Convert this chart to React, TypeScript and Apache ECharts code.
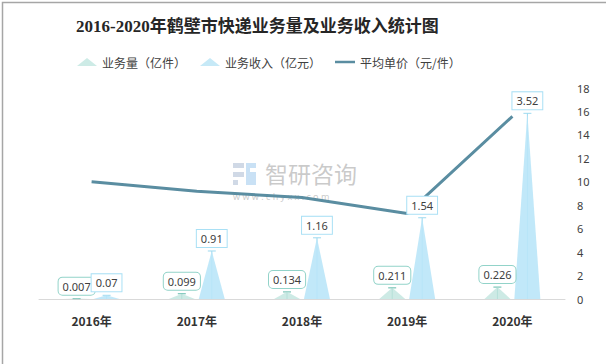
import React, { useEffect, useRef } from "react";
import * as echarts from "echarts";

const categories = ["2016年", "2017年", "2018年", "2019年", "2020年"];
const volume = [0.007, 0.099, 0.134, 0.211, 0.226];
const revenue = [0.07, 0.91, 1.16, 1.54, 3.52];
const avgPrice = [10, 9.19, 8.66, 7.3, 15.58];
const rightTicks = { min: 0, max: 18, interval: 2 };

const NAME_VOL = "业务量（亿件）";
const NAME_REV = "业务收入（亿元）";
const NAME_PRICE = "平均单价（元/件）";

const TRI = "path://M0,100 L50,0 L100,100 Z";

function stemSeries(data: number[], offset: number, color: string) {
  return {
    type: "custom",
    yAxisIndex: 0,
    z: 4,
    silent: true,
    data: data.map((v, i) => [i, v]),
    renderItem: (params: any, api: any) => {
      const top = api.coord([api.value(0), api.value(1)]);
      const base = api.coord([api.value(0), 0]);
      const x = top[0] + offset;
      return {
        type: "group",
        children: [
          { type: "line", shape: { x1: x, y1: base[1], x2: x, y2: top[1] }, style: { stroke: color, lineWidth: 1 } },
          { type: "line", shape: { x1: x - 4, y1: top[1], x2: x + 4, y2: top[1] }, style: { stroke: color, lineWidth: 1 } },
        ],
      };
    },
  };
}

export default function App() {
  const ref = useRef<HTMLDivElement>(null);
  useEffect(() => {
    if (!ref.current) return;
    const chart = echarts.init(ref.current, undefined, { renderer: "svg" });
    const labelBase = {
      show: true,
      position: "top",
      distance: 4,
      fontSize: 11,
      color: "#404040",
      backgroundColor: "#fff",
      padding: [3, 4, 3, 4],
      fontFamily: "'Noto Sans', sans-serif",
    };
    chart.setOption({
      animation: false,
      backgroundColor: "#fff",
      title: {
        text: "2016-2020年鹤壁市快递业务量及业务收入统计图",
        left: 71,
        top: 13,
        textStyle: {
          fontSize: 17,
          fontWeight: "bold",
          color: "#262626",
          fontFamily: "'Liberation Serif', 'Noto Sans CJK SC', serif",
        },
      },
      legend: {
        left: 72,
        top: 51,
        itemWidth: 20,
        itemHeight: 8,
        itemGap: 14,
        textStyle: { fontSize: 12, color: "#404040", fontFamily: "'Noto Sans CJK SC', sans-serif" },
        data: [
          { name: NAME_VOL, icon: "triangle", itemStyle: { color: "#cdebe6" } },
          { name: NAME_REV, icon: "triangle", itemStyle: { color: "#c6e9f7" } },
          { name: NAME_PRICE, icon: "path://M0,0 L24,0 L24,3 L0,3 Z", itemStyle: { color: "#5a8da1" } },
        ],
      },
      grid: { left: 39, right: 41, top: 88, bottom: 65 },
      xAxis: {
        type: "category",
        data: categories,
        axisLine: { lineStyle: { color: "#d9d9d9", width: 1 } },
        axisTick: { show: false },
        axisLabel: {
          margin: 15,
          fontSize: 12,
          fontWeight: "bold",
          color: "#333",
          fontFamily: "'Noto Sans CJK SC', sans-serif",
        },
      },
      yAxis: [
        { type: "value", min: 0, max: 4, show: false, splitLine: { show: false } },
        {
          type: "value",
          position: "right",
          min: rightTicks.min,
          max: rightTicks.max,
          interval: rightTicks.interval,
          axisLine: { show: false },
          axisTick: { show: false },
          splitLine: { show: false },
          axisLabel: { margin: 12, fontSize: 11, color: "#404040", fontFamily: "'Noto Sans', sans-serif" },
        },
      ],
      series: [
        {
          name: NAME_VOL,
          type: "pictorialBar",
          yAxisIndex: 0,
          z: 5,
          barWidth: 26,
          barGap: "15%",
          symbol: TRI,
          symbolSize: ["100%", "100%"],
          itemStyle: { color: "rgba(196,230,224,0.85)" },
          label: {
            ...labelBase,
            borderColor: "#92d3c9",
            borderWidth: 1,
            borderRadius: 4,
          },
          data: volume,
        },
        {
          name: NAME_REV,
          type: "pictorialBar",
          yAxisIndex: 0,
          z: 5,
          barWidth: 26,
          barGap: "15%",
          symbol: TRI,
          symbolSize: ["100%", "100%"],
          itemStyle: { color: "rgba(186,230,248,0.9)" },
          label: {
            ...labelBase,
            borderColor: "#a9e0f5",
            borderWidth: 1,
            borderRadius: 0,
          },
          data: revenue,
        },
        stemSeries(volume, -15, "#5fb9a9"),
        stemSeries(revenue, 15, "#9cd9ef"),
        {
          name: NAME_PRICE,
          type: "line",
          yAxisIndex: 1,
          z: 2,
          symbol: "none",
          lineStyle: { color: "#5a8da1", width: 3 },
          itemStyle: { color: "#5a8da1" },
          data: avgPrice,
        },
      ],
      graphic: [
        {
          type: "group",
          left: 233,
          top: 163,
          silent: true,
          children: [
            { type: "rect", shape: { x: 0, y: 0, width: 11, height: 5 }, style: { fill: "rgba(150,170,200,0.45)" } },
            { type: "rect", shape: { x: 0, y: 9, width: 11, height: 5 }, style: { fill: "rgba(150,170,200,0.45)" } },
            { type: "rect", shape: { x: 0, y: 17, width: 5, height: 5 }, style: { fill: "rgba(150,170,200,0.45)" } },
            { type: "rect", shape: { x: 13, y: 0, width: 10, height: 22 }, style: { fill: "rgba(120,180,230,0.4)" } },
            { type: "rect", shape: { x: 17, y: 5, width: 6, height: 4 }, style: { fill: "#fff" } },
          ],
        },
        {
          type: "text",
          left: 265,
          top: 161,
          silent: true,
          style: {
            text: "智研咨询",
            fontSize: 23,
            fill: "rgba(150,150,150,0.5)",
            fontFamily: "'Noto Sans CJK SC', sans-serif",
          },
        },
        {
          type: "text",
          left: 233,
          top: 192,
          silent: true,
          style: {
            text: "w w w . c h y x x . c o m",
            fontSize: 9,
            fill: "rgba(150,150,150,0.5)",
            fontFamily: "'Noto Sans', sans-serif",
          },
        },
        {
          type: "rect",
          left: 0,
          top: 0,
          silent: true,
          shape: { x: 0.75, y: 0.75, width: 604.5, height: 362.5 },
          style: { fill: "none", stroke: "#a6a6a6", lineWidth: 1.5 },
          z: 100,
        },
      ],
    });
    return () => chart.dispose();
  }, []);
  return (
    <div
      ref={ref}
      style={{ position: "fixed", left: 0, top: 0, width: 606, height: 364 }}
    />
  );
}
